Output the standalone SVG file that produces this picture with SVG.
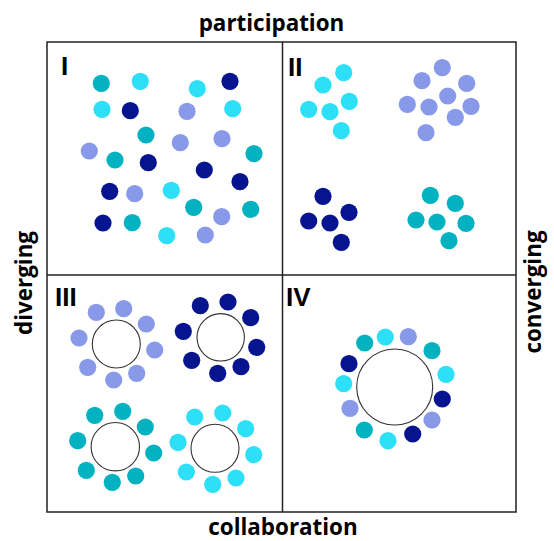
<svg xmlns="http://www.w3.org/2000/svg" width="554" height="541" viewBox="0 0 554 541">
<style>
.ax{font-family:"Open Sans","Liberation Sans",sans-serif;font-weight:700;font-size:22.4px;fill:#000}
.rn{font-family:"Liberation Sans",Arial,sans-serif;font-weight:700;font-size:26px;fill:#000}
.ln{stroke:#222;stroke-width:1.5;fill:none}
.ring{fill:#fff;stroke:#333;stroke-width:1.1}
.t{fill:#03B2C0}.c{fill:#2EDFF8}.l{fill:#8799E8}.n{fill:#06158F}
</style>
<rect width="554" height="541" fill="#fff"/>
<g id="frame">
<rect class="ln" x="47" y="42" width="469" height="470"/>
<line class="ln" x1="282.5" y1="42" x2="282.5" y2="512"/>
<line class="ln" x1="47" y1="275" x2="516" y2="275"/>
</g>
<g id="axis-labels">
<text class="ax" x="271.5" y="31" text-anchor="middle">participation</text>
<text class="ax" x="283" y="535" text-anchor="middle">collaboration</text>
<text class="ax" transform="translate(32,283) rotate(-90)" text-anchor="middle">diverging</text>
<text class="ax" transform="translate(541,292) rotate(-90)" text-anchor="middle">converging</text>
</g>
<g id="quadrant-I">
<text class="rn" x="61" y="75">I</text>
<circle class="t" cx="101.3" cy="83.3" r="8.6"/>
<circle class="c" cx="140.3" cy="81.3" r="8.6"/>
<circle class="c" cx="197.3" cy="88.7" r="8.6"/>
<circle class="n" cx="230" cy="81.3" r="8.6"/>
<circle class="c" cx="102" cy="109.3" r="8.6"/>
<circle class="n" cx="130.3" cy="110.7" r="8.6"/>
<circle class="l" cx="187" cy="111.3" r="8.6"/>
<circle class="c" cx="232.7" cy="108.7" r="8.6"/>
<circle class="t" cx="146" cy="135" r="8.6"/>
<circle class="l" cx="180.3" cy="142.7" r="8.6"/>
<circle class="l" cx="222" cy="138.7" r="8.6"/>
<circle class="l" cx="89.3" cy="151" r="8.6"/>
<circle class="t" cx="115" cy="160" r="8.6"/>
<circle class="n" cx="148.3" cy="162.7" r="8.6"/>
<circle class="t" cx="254" cy="153.7" r="8.6"/>
<circle class="n" cx="204.3" cy="170" r="8.6"/>
<circle class="n" cx="240" cy="181.7" r="8.6"/>
<circle class="n" cx="109.7" cy="191.3" r="8.6"/>
<circle class="l" cx="134.7" cy="193.7" r="8.6"/>
<circle class="c" cx="171.3" cy="190.3" r="8.6"/>
<circle class="t" cx="193.7" cy="207.3" r="8.6"/>
<circle class="l" cx="221.7" cy="216.7" r="8.6"/>
<circle class="t" cx="250.7" cy="209.3" r="8.6"/>
<circle class="n" cx="103" cy="223" r="8.6"/>
<circle class="t" cx="132.3" cy="222.7" r="8.6"/>
<circle class="c" cx="166.7" cy="235.7" r="8.6"/>
<circle class="l" cx="205.3" cy="235" r="8.6"/>
</g>
<g id="quadrant-II">
<text class="rn" x="288" y="76">II</text>
<circle class="c" cx="343.7" cy="72.7" r="8.6"/>
<circle class="c" cx="323" cy="85" r="8.6"/>
<circle class="c" cx="349.3" cy="101.3" r="8.6"/>
<circle class="c" cx="308.7" cy="109.3" r="8.6"/>
<circle class="c" cx="330" cy="111.7" r="8.6"/>
<circle class="c" cx="341.3" cy="130.7" r="8.6"/>
<circle class="l" cx="442.3" cy="67.7" r="8.6"/>
<circle class="l" cx="422" cy="80.7" r="8.6"/>
<circle class="l" cx="466.7" cy="83.3" r="8.6"/>
<circle class="l" cx="447.7" cy="96" r="8.6"/>
<circle class="l" cx="407.3" cy="104.3" r="8.6"/>
<circle class="l" cx="429" cy="107" r="8.6"/>
<circle class="l" cx="471" cy="106.3" r="8.6"/>
<circle class="l" cx="455.3" cy="117.3" r="8.6"/>
<circle class="l" cx="426" cy="132.7" r="8.6"/>
<circle class="n" cx="323" cy="196.3" r="8.6"/>
<circle class="n" cx="349" cy="212.3" r="8.6"/>
<circle class="n" cx="308.7" cy="221" r="8.6"/>
<circle class="n" cx="330" cy="223" r="8.6"/>
<circle class="n" cx="341.3" cy="242.3" r="8.6"/>
<circle class="t" cx="430.3" cy="195.3" r="8.6"/>
<circle class="t" cx="455.3" cy="203.3" r="8.6"/>
<circle class="t" cx="416" cy="220" r="8.6"/>
<circle class="t" cx="437" cy="222" r="8.6"/>
<circle class="t" cx="466" cy="223.3" r="8.6"/>
<circle class="t" cx="449" cy="240.7" r="8.6"/>
</g>
<g id="quadrant-III">
<text class="rn" x="55" y="306">III</text>
<circle class="ring" cx="116.3" cy="344" r="24"/>
<circle class="l" cx="96.3" cy="312.3" r="8.6"/>
<circle class="l" cx="123.7" cy="308.7" r="8.6"/>
<circle class="l" cx="146.3" cy="324" r="8.6"/>
<circle class="l" cx="79" cy="338" r="8.6"/>
<circle class="l" cx="154.7" cy="350" r="8.6"/>
<circle class="l" cx="87.7" cy="367.3" r="8.6"/>
<circle class="l" cx="136.7" cy="373.3" r="8.6"/>
<circle class="l" cx="113.7" cy="380" r="8.6"/>
<circle class="ring" cx="220.7" cy="337.3" r="23.7"/>
<circle class="n" cx="200.3" cy="305.7" r="8.6"/>
<circle class="n" cx="228" cy="302" r="8.6"/>
<circle class="n" cx="250.7" cy="317.7" r="8.6"/>
<circle class="n" cx="183.3" cy="331.3" r="8.6"/>
<circle class="n" cx="256.7" cy="347.3" r="8.6"/>
<circle class="n" cx="191.7" cy="360.3" r="8.6"/>
<circle class="n" cx="241" cy="366.7" r="8.6"/>
<circle class="n" cx="217.7" cy="373.3" r="8.6"/>
<circle class="ring" cx="115.3" cy="446.7" r="24.2"/>
<circle class="t" cx="94.7" cy="415.3" r="8.6"/>
<circle class="t" cx="122.7" cy="411.3" r="8.6"/>
<circle class="t" cx="145.3" cy="427" r="8.6"/>
<circle class="t" cx="77.7" cy="440.7" r="8.6"/>
<circle class="t" cx="153.7" cy="453" r="8.6"/>
<circle class="t" cx="86.3" cy="470.3" r="8.6"/>
<circle class="t" cx="135.7" cy="476" r="8.6"/>
<circle class="t" cx="112.3" cy="482.3" r="8.6"/>
<circle class="ring" cx="215" cy="448.3" r="24"/>
<circle class="c" cx="194.7" cy="417" r="8.6"/>
<circle class="c" cx="222.7" cy="413" r="8.6"/>
<circle class="c" cx="245.7" cy="428.7" r="8.6"/>
<circle class="c" cx="178" cy="442.3" r="8.6"/>
<circle class="c" cx="253.7" cy="454.7" r="8.6"/>
<circle class="c" cx="186.3" cy="472" r="8.6"/>
<circle class="c" cx="236" cy="478" r="8.6"/>
<circle class="c" cx="212.7" cy="484.3" r="8.6"/>
</g>
<g id="quadrant-IV">
<text class="rn" x="286" y="306">IV</text>
<circle class="ring" cx="394.7" cy="387" r="38"/>
<circle class="t" cx="364.7" cy="343" r="8.6"/>
<circle class="c" cx="385.3" cy="337" r="8.6"/>
<circle class="l" cx="408.3" cy="336.7" r="8.6"/>
<circle class="t" cx="432" cy="350.7" r="8.6"/>
<circle class="n" cx="349" cy="363.7" r="8.6"/>
<circle class="c" cx="446" cy="374.3" r="8.6"/>
<circle class="c" cx="343.7" cy="383.7" r="8.6"/>
<circle class="n" cx="442.3" cy="399" r="8.6"/>
<circle class="l" cx="350" cy="408.3" r="8.6"/>
<circle class="l" cx="432" cy="420" r="8.6"/>
<circle class="t" cx="364.3" cy="430" r="8.6"/>
<circle class="n" cx="412.7" cy="434" r="8.6"/>
<circle class="c" cx="388" cy="440.7" r="8.6"/>
</g>
</svg>
